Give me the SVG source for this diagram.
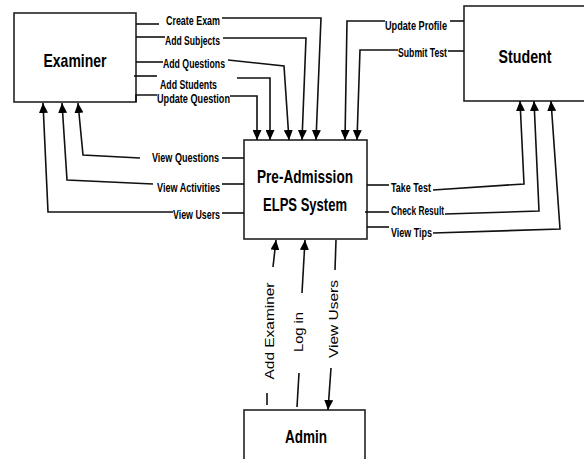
<svg xmlns="http://www.w3.org/2000/svg" width="584" height="459" viewBox="0 0 584 459">
<defs>
<marker id="ah" markerUnits="userSpaceOnUse" markerWidth="10" markerHeight="9" refX="10" refY="4.5" orient="auto"><path d="M0,0 L10,4.5 L0,9 z" fill="#000"/></marker>
<style>
.box{fill:#fff;stroke:#222;stroke-width:1.6}
.ln{fill:none;stroke:#111;stroke-width:1.6}
.ar{fill:none;stroke:#111;stroke-width:1.6;marker-end:url(#ah)}
.lbl{font-family:"Liberation Sans Narrow","Liberation Sans",sans-serif;font-weight:bold;font-size:12.5px;fill:#000}
.big{font-family:"Liberation Sans Narrow","Liberation Sans",sans-serif;font-weight:bold;font-size:19px;fill:#000;text-anchor:middle}
.rot{font-family:"Liberation Sans",Arial,sans-serif;font-size:13px;fill:#000;text-anchor:middle}
</style>
</defs>
<rect width="584" height="459" fill="#fff"/>
<g id="examiner"><rect class="box" x="14" y="13" width="122" height="89"/><text class="big" x="75" y="67" textLength="63" lengthAdjust="spacingAndGlyphs">Examiner</text></g>
<g id="student"><rect class="box" x="464" y="6" width="130" height="95"/><text class="big" x="525" y="63" textLength="53" lengthAdjust="spacingAndGlyphs">Student</text></g>
<g id="system"><rect class="box" x="244" y="140" width="123" height="99"/><text class="big" x="305" y="183" textLength="96" lengthAdjust="spacingAndGlyphs">Pre-Admission</text><text class="big" x="305" y="211" textLength="84" lengthAdjust="spacingAndGlyphs">ELPS System</text></g>
<g id="admin"><rect class="box" x="244" y="410" width="121" height="60"/><text class="big" x="306" y="443" textLength="42" lengthAdjust="spacingAndGlyphs">Admin</text></g>
<g id="connectors">
<polyline class="ln" points="136,24 159,24"/><polyline class="ar" points="222,18 321,18 316,140"/>
<polyline class="ln" points="136,37 165,37"/><polyline class="ar" points="223,38 306,38 302,140"/>
<polyline class="ln" points="136,62 163,62"/><polyline class="ar" points="228,60 284,66 289,140"/>
<polyline class="ln" points="134,76 157,76"/><polyline class="ar" points="237,78 270,78 270,140"/>
<polyline class="ln" points="136,102 136,95 157,95"/><polyline class="ar" points="230,96 257,96 257,140"/>
<polyline class="ln" points="464,21 450,21"/><polyline class="ar" points="385,21 347,21 345,140"/>
<polyline class="ln" points="464,51 448,51"/><polyline class="ar" points="398,50 360,50 357,140"/>
<polyline class="ln" points="244,158 222,158"/><polyline class="ar" points="140,158 83,155 78,103"/>
<polyline class="ln" points="244,184 222,184"/><polyline class="ar" points="153,184 67,180 62,103"/>
<polyline class="ln" points="244,213 222,213"/><polyline class="ar" points="173,212 48,212 43,103"/>
<polyline class="ln" points="367,185 389,185"/><polyline class="ar" points="433,190 524,184 520,101"/>
<polyline class="ln" points="365,212 389,212"/><polyline class="ar" points="445,214 539,211 534,101"/>
<polyline class="ln" points="367,227 389,227"/><polyline class="ar" points="433,233 560,229 551,101"/>
<polyline class="ln" points="267,405 267,393"/><polyline class="ar" points="273,267 276,240"/>
<polyline class="ln" points="297,407 299,373"/><polyline class="ar" points="302,293 305,240"/>
<polyline class="ln" points="336,240 335,270"/><polyline class="ar" points="331,368 328,410"/>
</g>
<g id="labels">
<text class="lbl" x="166" y="25" textLength="54" lengthAdjust="spacingAndGlyphs">Create Exam</text>
<text class="lbl" x="165" y="45" textLength="55" lengthAdjust="spacingAndGlyphs">Add Subjects</text>
<text class="lbl" x="163" y="68" textLength="62" lengthAdjust="spacingAndGlyphs">Add Questions</text>
<text class="lbl" x="160" y="89" textLength="57" lengthAdjust="spacingAndGlyphs">Add Students</text>
<text class="lbl" x="157" y="103" textLength="73" lengthAdjust="spacingAndGlyphs">Update Question</text>
<text class="lbl" x="385" y="30" textLength="62" lengthAdjust="spacingAndGlyphs">Update Profile</text>
<text class="lbl" x="398" y="57" textLength="49" lengthAdjust="spacingAndGlyphs">Submit Test</text>
<text class="lbl" x="152" y="162" textLength="67" lengthAdjust="spacingAndGlyphs">View Questions</text>
<text class="lbl" x="157" y="192" textLength="63" lengthAdjust="spacingAndGlyphs">View Activities</text>
<text class="lbl" x="173" y="219" textLength="47" lengthAdjust="spacingAndGlyphs">View Users</text>
<text class="lbl" x="391" y="192" textLength="40" lengthAdjust="spacingAndGlyphs">Take Test</text>
<text class="lbl" x="391" y="215" textLength="53" lengthAdjust="spacingAndGlyphs">Check Result</text>
<text class="lbl" x="391" y="237" textLength="41" lengthAdjust="spacingAndGlyphs">View Tips</text>
<text class="rot" transform="translate(273.5,331) rotate(-90)" textLength="97" lengthAdjust="spacingAndGlyphs">Add Examiner</text>
<text class="rot" transform="translate(302.5,332) rotate(-90)" textLength="40" lengthAdjust="spacingAndGlyphs">Log in</text>
<text class="rot" transform="translate(337.5,319) rotate(-90)" textLength="78" lengthAdjust="spacingAndGlyphs">View Users</text>
</g>
</svg>
